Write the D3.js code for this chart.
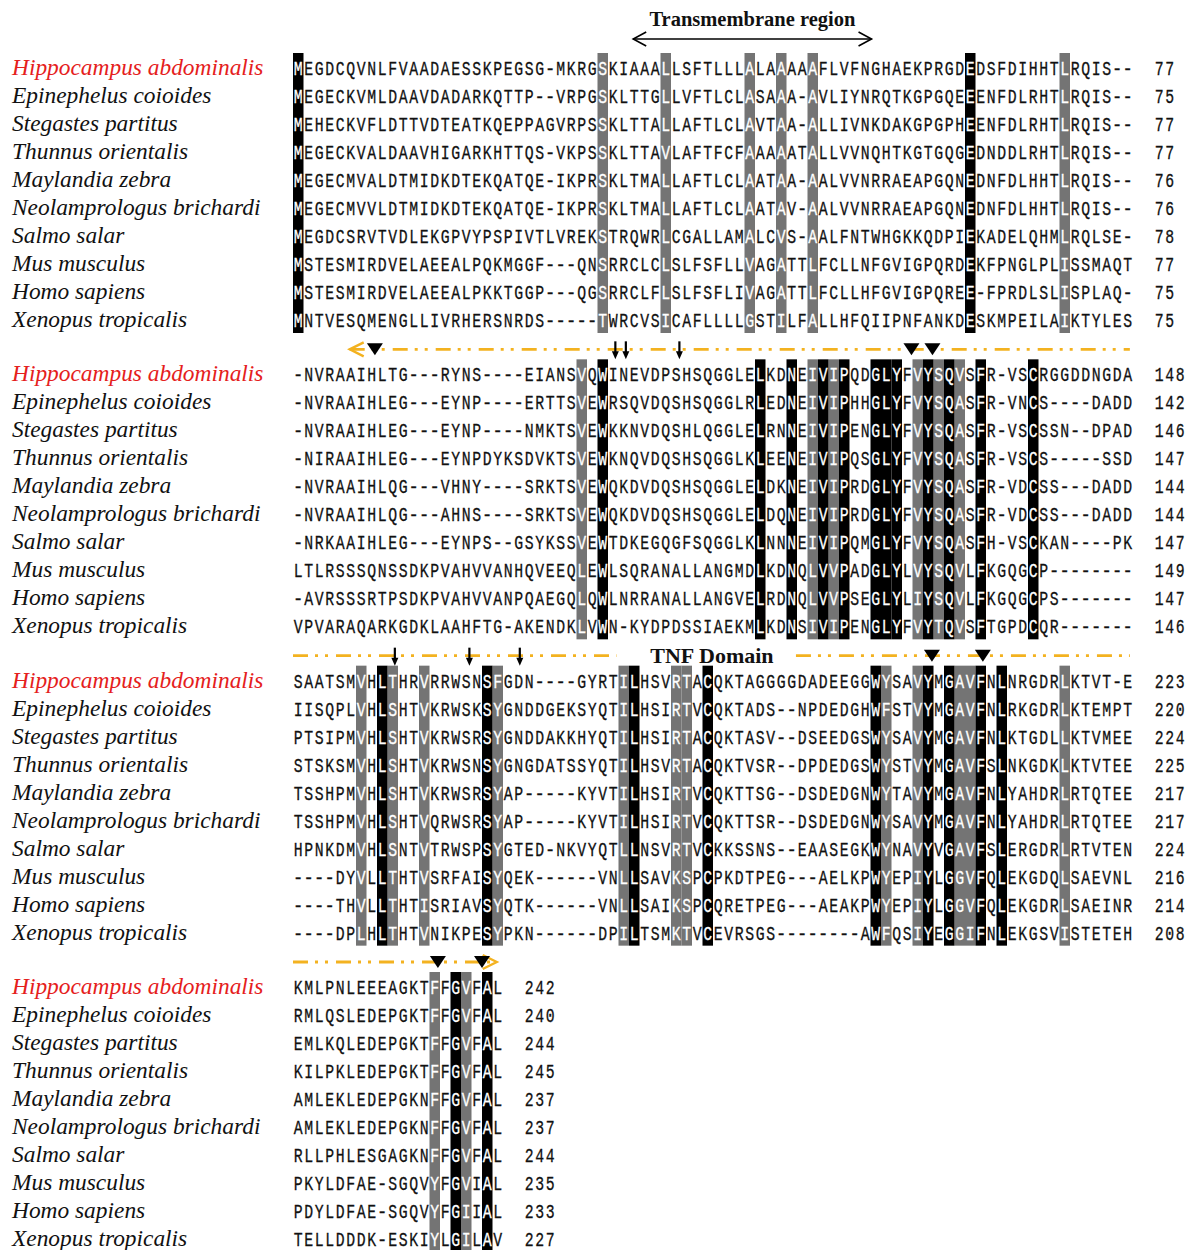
<!DOCTYPE html>
<html>
<head>
<meta charset="utf-8">
<script src="https://cdn.jsdelivr.net/npm/d3@7"></script>
<style>
  body { margin: 0; background: #fff; }
  svg { display: block; }
</style>
</head>
<body>
<svg id="chart" width="1194" height="1250"></svg>
<script>
// ---- species (row labels) ----
const species = [
  "Hippocampus abdominalis", "Epinephelus coioides", "Stegastes partitus",
  "Thunnus orientalis", "Maylandia zebra", "Neolamprologus brichardi",
  "Salmo salar", "Mus musculus", "Homo sapiens", "Xenopus tropicalis"
];
const focusSpecies = "Hippocampus abdominalis";

// ---- aligned sequences, one array per block ----
const block1 = [
  "MEGDCQVNLFVAADAESSKPEGSG-MKRGSKIAAALLSFTLLLALAAAAAFLVFNGHAEKPRGDEDSFDIHHTLRQIS--",
  "MEGECKVMLDAAVDADARKQTTP--VRPGSKLTTGLLVFTLCLASAAA-AVLIYNRQTKGPGQEEENFDLRHTLRQIS--",
  "MEHECKVFLDTTVDTEATKQEPPAGVRPSSKLTTALLAFTLCLAVTAA-ALLIVNKDAKGPGPHEENFDLRHTLRQIS--",
  "MEGECKVALDAAVHIGARKHTTQS-VKPSSKLTTAVLAFTFCFAAAAATALLVVNQHTKGTGQGEDNDDLRHTLRQIS--",
  "MEGECMVALDTMIDKDTEKQATQE-IKPRSKLTMALLAFTLCLAATAA-AALVVNRRAEAPGQNEDNFDLHHTLRQIS--",
  "MEGECMVVLDTMIDKDTEKQATQE-IKPRSKLTMALLAFTLCLAATAV-AALVVNRRAEAPGQNEDNFDLHHTLRQIS--",
  "MEGDCSRVTVDLEKGPVYPSPIVTLVREKSTRQWRLCGALLAMALCVS-AALFNTWHGKKQDPIEKADELQHMLRQLSE-",
  "MSTESMIRDVELAEEALPQKMGGF---QNSRRCLCLSLFSFLLVAGATTLFCLLNFGVIGPQRDEKFPNGLPLISSMAQT",
  "MSTESMIRDVELAEEALPKKTGGP---QGSRRCLFLSLFSFLIVAGATTLFCLLHFGVIGPQREE-FPRDLSLISPLAQ-",
  "MNTVESQMENGLLIVRHERSNRDS-----TWRCVSICAFLLLLGSTILFALLHFQIIPNFANKDESKMPEILAIKTYLES"
];
const block2 = [
  "-NVRAAIHLTG---RYNS----EIANSVQWINEVDPSHSQGGLELKDNEIVIPQDGLYFVYSQVSFR-VSCRGGDDNGDA",
  "-NVRAAIHLEG---EYNP----ERTTSVEWRSQVDQSHSQGGLRLEDNEIVIPHHGLYFVYSQASFR-VNCS----DADD",
  "-NVRAAIHLEG---EYNP----NMKTSVEWKKNVDQSHLQGGLELRNNEIVIPENGLYFVYSQASFR-VSCSSN--DPAD",
  "-NIRAAIHLEG---EYNPDYKSDVKTSVEWKNQVDQSHSQGGLKLEENEIVIPQSGLYFVYSQASFR-VSCS-----SSD",
  "-NVRAAIHLQG---VHNY----SRKTSVEWQKDVDQSHSQGGLELDKNEIVIPRDGLYFVYSQASFR-VDCSS---DADD",
  "-NVRAAIHLQG---AHNS----SRKTSVEWQKDVDQSHSQGGLELDQNEIVIPRDGLYFVYSQASFR-VDCSS---DADD",
  "-NRKAAIHLEG---EYNPS--GSYKSSVEWTDKEGQGFSQGGLKLNNNEIVIPQMGLYFVYSQASFH-VSCKAN----PK",
  "LTLRSSSQNSSDKPVAHVVANHQVEEQLEWLSQRANALLANGMDLKDNQLVVPADGLYLVYSQVLFKGQGCP--------",
  "-AVRSSSRTPSDKPVAHVVANPQAEGQLQWLNRRANALLANGVELRDNQLVVPSEGLYLIYSQVLFKGQGCPS-------",
  "VPVARAQARKGDKLAAHFTG-AKENDKLVWN-KYDPDSSIAEKMLKDNSIVIPENGLYFVYTQVSFTGPDCQR-------"
];
const block3 = [
  "SAATSMVHLTHRVRRWSNSFGDN----GYRTILHSVRTACQKTAGGGGDADEEGGWYSAVYMGAVFNLNRGDRLKTVT-E",
  "IISQPLVHLSHTVKRWSKSYGNDDGEKSYQTILHSIRTVCQKTADS--NPDEDGHWFSTVYMGAVFNLRKGDRLKTEMPT",
  "PTSIPMVHLSHTVKRWSRSYGNDDAKKHYQTILHSIRTACQKTASV--DSEEDGSWYSAVYMGAVFNLKTGDLLKTVMEE",
  "STSKSMVHLSHTVKRWSNSYGNGDATSSYQTILHSVRTACQKTVSR--DPDEDGSWYSTVYMGAVFSLNKGDKLKTVTEE",
  "TSSHPMVHLSHTVKRWSRSYAP-----KYVTILHSIRTVCQKTTSG--DSDEDGNWYTAVYMGAVFNLYAHDRLRTQTEE",
  "TSSHPMVHLSHTVQRWSRSYAP-----KYVTILHSIRTVCQKTTSR--DSDEDGNWYSAVYMGAVFNLYAHDRLRTQTEE",
  "HPNKDMVHLSNTVTRWSPSYGTED-NKVYQTLLNSVRTVCKKSSNS--EAASEGKWYNAVYVGAVFSLERGDRLRTVTEN",
  "----DYVLLTHTVSRFAISYQEK------VNLLSAVKSPCPKDTPEG---AELKPWYEPIYLGGVFQLEKGDQLSAEVNL",
  "----THVLLTHTISRIAVSYQTK------VNLLSAIKSPCQRETPEG---AEAKPWYEPIYLGGVFQLEKGDRLSAEINR",
  "----DPLHLTHTVNIKPESYPKN------DPILTSMKTVCEVRSGS--------AWFQSIYEGGIFNLEKGSVISTETEH"
];
const block4 = [
  "KMLPNLEEEAGKTFFGVFAL", "RMLQSLEDEPGKTFFGVFAL", "EMLKQLEDEPGKTFFGVFAL",
  "KILPKLEDEPGKTFFGVFAL", "AMLEKLEDEPGKNFFGVFAL", "AMLEKLEDEPGKNFFGVFAL",
  "RLLPHLESGAGKNFFGVFAL", "PKYLDFAE-SGQVYFGVIAL", "PDYLDFAE-SGQVYFGIIAL",
  "TELLDDDK-ESKIYLGILAV"
];
const blocks = [block1, block2, block3, block4];

// residue count reached at the end of each line
const ends1 = [77, 75, 77, 77, 76, 76, 78, 77, 75, 75];
const ends2 = [148, 142, 146, 147, 144, 144, 147, 149, 147, 146];
const ends3 = [223, 220, 224, 225, 217, 217, 224, 216, 214, 208];
const ends4 = [242, 240, 244, 245, 237, 237, 244, 235, 233, 227];
const ends = [ends1, ends2, ends3, ends4];

// conserved alignment columns (0-based) per block
const identicalCols = [
  [0, 64],
  [29, 44, 47, 50, 52, 55, 56, 57, 60, 62, 65, 70],
  [8, 18, 32, 39, 55, 60, 62, 65, 67],
  [15, 18]
];
const similarCols = [
  [29, 35, 43, 46, 49, 73],
  [27, 49, 51, 59, 61, 63],
  [6, 9, 12, 19, 31, 36, 37, 56, 59, 63, 64, 73],
  [13, 16]
];

// feature marks, in column units along each block
const sitesTriangle = [[], [7.8, 58.9, 60.9], [60.85, 65.7], [13.8, 18.0]];
const sitesArrow = [[], [30.7, 31.7, 36.8], [9.7, 16.8, 21.6], []];
const transmembraneSpan = [32.4, 55.1];
const tnfLines = [
  { block: 1, from: 5.4, to: 79.7, head: "start" },
  { block: 2, from: 0, to: 30.8, head: null },
  { block: 2, from: 47.9, to: 79.7, head: null },
  { block: 3, from: 0, to: 19.4, head: "end" }
];
const tnfLabelCol = 39.9;

// ---- layout ----
const svg = d3.select("#chart");
const colW = 10.5;
const x = d3.scaleLinear().domain([0, 80]).range([293, 293 + 80 * colW]);
const yBlock = d3.scaleLinear().domain([0, 3]).range([75, 994]);
const yRow = d3.scaleLinear().domain([0, 1]).range([0, 28]);
const cellTop = -22, cellH = 28;

const seqFont = "'Liberation Mono', 'DejaVu Sans Mono', monospace";
const seqSize = 20;
const glyphScale = 0.74;
const dashScale = 0.86;
const GRAY = "#747474";
const ORANGE = "#f3b220";

blocks.forEach((rows, b) => {
  const g = svg.append("g").attr("transform", `translate(0,${yBlock(b)})`);
  const nCols = rows[0].length;
  const shade = new Map();
  similarCols[b].forEach(c => shade.set(c, GRAY));
  identicalCols[b].forEach(c => shade.set(c, "#000"));

  // shaded column bands
  g.selectAll("rect.band")
    .data([...shade.entries()])
    .join("rect")
    .attr("class", "band")
    .attr("x", d => x(d[0]))
    .attr("y", cellTop)
    .attr("width", x(1) - x(0))
    .attr("height", yRow(rows.length - 1) + cellH)
    .attr("fill", d => d[1]);

  // species names
  g.selectAll("text.name")
    .data(species)
    .join("text")
    .attr("class", "name")
    .attr("x", 12)
    .attr("y", (d, i) => yRow(i))
    .attr("font-family", "'Liberation Serif', 'Times New Roman', serif")
    .attr("font-style", "italic")
    .attr("font-size", 23.4)
    .attr("fill", d => d === focusSpecies ? "#e5201c" : "#111")
    .text(d => d);

  // residues, one per column
  rows.forEach((seq, i) => {
    const chars = seq.split("").map((ch, j) => ({ ch, j }));
    g.append("g")
      .selectAll("text")
      .data(chars)
      .join("text")
      .attr("transform", d => `translate(${x(d.j + 0.5)},${yRow(i)}) scale(${d.ch === "-" ? dashScale : glyphScale},1)`)
      .attr("text-anchor", "middle")
      .attr("font-family", seqFont)
      .attr("font-size", seqSize)
      .attr("fill", d => shade.has(d.j) ? "#fff" : "#111")
      .attr("stroke", d => shade.has(d.j) ? "#fff" : "#111")
      .attr("stroke-width", 0.3)
      .text(d => d.ch);

    // end position number
    const digits = String(ends[b][i]).split("").map((ch, k) => ({ ch, k }));
    g.append("g")
      .selectAll("text")
      .data(digits)
      .join("text")
      .attr("transform", d => `translate(${x(nCols + 2 + d.k + 0.5)},${yRow(i)}) scale(${glyphScale},1)`)
      .attr("text-anchor", "middle")
      .attr("font-family", seqFont)
      .attr("font-size", seqSize)
      .attr("fill", "#111")
      .attr("stroke", "#111")
      .attr("stroke-width", 0.3)
      .text(d => d.ch);
  });
});

// ---- transmembrane region header ----
{
  const g = svg.append("g").attr("transform", `translate(0,${yBlock(0)})`);
  const yA = -36;
  const [a, bEnd] = transmembraneSpan.map(c => x(c));
  g.append("line")
    .attr("x1", a).attr("x2", bEnd).attr("y1", yA).attr("y2", yA)
    .attr("stroke", "#000").attr("stroke-width", 1.6);
  g.append("path")
    .attr("d", `M${a + 13},${yA - 7} L${a},${yA} L${a + 13},${yA + 7} M${bEnd - 13},${yA - 7} L${bEnd},${yA} L${bEnd - 13},${yA + 7}`)
    .attr("fill", "none").attr("stroke", "#000").attr("stroke-width", 1.6);
  g.append("text")
    .attr("x", (a + bEnd) / 2)
    .attr("y", -49)
    .attr("text-anchor", "middle")
    .attr("font-family", "'Liberation Serif', 'Times New Roman', serif")
    .attr("font-weight", "bold")
    .attr("font-size", 20.5)
    .attr("fill", "#111")
    .text("Transmembrane region");
}

// ---- TNF domain dash-dot lines ----
tnfLines.forEach(seg => {
  const g = svg.append("g").attr("transform", `translate(0,${yBlock(seg.block)})`);
  const yL = -32;
  const x1 = x(seg.from), x2 = x(seg.to);
  g.append("line")
    .attr("x1", x1).attr("x2", x2).attr("y1", yL).attr("y2", yL)
    .attr("stroke", ORANGE).attr("stroke-width", 2.8)
    .attr("stroke-dasharray", "15,7,3,7,3,8");
  if (seg.head === "start") {
    g.append("path")
      .attr("d", `M${x1 + 14},${yL - 7} L${x1},${yL} L${x1 + 14},${yL + 7}`)
      .attr("fill", "none").attr("stroke", ORANGE).attr("stroke-width", 2.4);
  } else if (seg.head === "end") {
    g.append("path")
      .attr("d", `M${x2 - 14},${yL - 7} L${x2},${yL} L${x2 - 14},${yL + 7}`)
      .attr("fill", "none").attr("stroke", ORANGE).attr("stroke-width", 2.4);
  }
});
{
  const g = svg.append("g").attr("transform", `translate(0,${yBlock(2)})`);
  g.append("text")
    .attr("x", x(tnfLabelCol))
    .attr("y", -25)
    .attr("text-anchor", "middle")
    .attr("font-family", "'Liberation Serif', 'Times New Roman', serif")
    .attr("font-weight", "bold")
    .attr("font-size", 22)
    .attr("fill", "#111")
    .text("TNF Domain");
}

// ---- site markers ----
sitesTriangle.forEach((cols, b) => {
  const g = svg.append("g").attr("transform", `translate(0,${yBlock(b)})`);
  g.selectAll("path")
    .data(cols)
    .join("path")
    .attr("d", c => `M${x(c) - 8},-38 L${x(c) + 8},-38 L${x(c)},-26 Z`)
    .attr("fill", "#000");
});
sitesArrow.forEach((cols, b) => {
  const g = svg.append("g").attr("transform", `translate(0,${yBlock(b)})`);
  g.selectAll("line")
    .data(cols)
    .join("line")
    .attr("x1", c => x(c)).attr("x2", c => x(c))
    .attr("y1", -40).attr("y2", -28)
    .attr("stroke", "#000").attr("stroke-width", 2.2);
  g.selectAll("path")
    .data(cols)
    .join("path")
    .attr("d", c => `M${x(c) - 3.5},-30 L${x(c) + 3.5},-30 L${x(c)},-22 Z`)
    .attr("fill", "#000");
});
</script>
</body>
</html>
